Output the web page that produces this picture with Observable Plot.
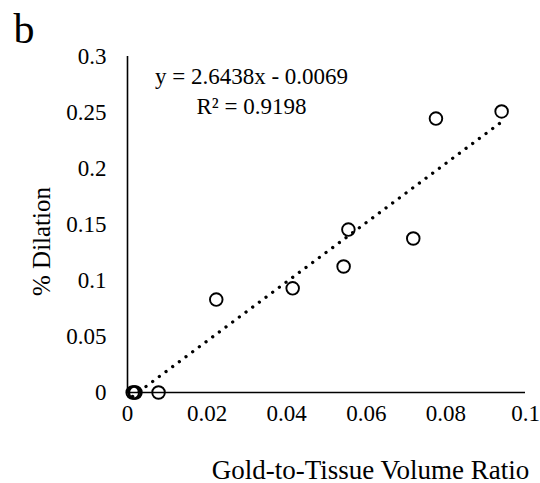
<!DOCTYPE html>
<html>
<head>
<meta charset="utf-8">
<script src="https://cdn.jsdelivr.net/npm/d3@7"></script>
<script src="https://cdn.jsdelivr.net/npm/@observablehq/plot@0.6"></script>
<style>
  html, body { margin: 0; padding: 0; background: #fff; }
  #chart { width: 540px; height: 483px; }
</style>
</head>
<body>
<div id="chart"></div>
<script>
// Gold-to-tissue volume ratio vs. measured dilation for each sample
const goldRatio = [0.0013, 0.0017, 0.0020, 0.0078, 0.0223, 0.0415, 0.0543, 0.0555, 0.0718, 0.0775, 0.0940];
const dilation  = [0,      0,      0,      0,      0.083,  0.093,  0.1125, 0.1455, 0.1375, 0.2446, 0.2509];

// Linear least-squares fit reported for the series
const trendSlope = 2.6438;
const trendIntercept = -0.0069;
const rSquared = 0.9198;

// Axis ticks
const xTicks = [0, 0.02, 0.04, 0.06, 0.08, 0.1];
const yTicks = [0, 0.05, 0.1, 0.15, 0.2, 0.25, 0.3];

const points = goldRatio.map((x, i) => ({x, y: dilation[i]}));
const [xMin, xMax] = d3.extent(goldRatio);
const trend = [xMin, xMax].map(x => ({x, y: trendSlope * x + trendIntercept}));

const equation = `y = ${trendSlope.toFixed(4)}x ${trendIntercept < 0 ? "-" : "+"} ${Math.abs(trendIntercept).toFixed(4)}`;
const fitLabel = `R² = ${rSquared.toFixed(4)}`;

const serif = "'Liberation Serif', 'Times New Roman', serif";

const chart = Plot.plot({
  width: 540,
  height: 483,
  marginLeft: 127,
  marginRight: 15,
  marginTop: 56,
  marginBottom: 91,
  style: {fontFamily: serif, fontSize: "23px", color: "#000", background: "#fff"},
  x: {domain: [0, 0.1]},
  y: {domain: [0, 0.3]},
  marks: [
    Plot.axisX({ticks: xTicks, tickSize: 0, tickPadding: 12, tickFormat: d => String(d), label: null, fontSize: 23}),
    Plot.axisY({ticks: yTicks, tickSize: 0, tickPadding: 21, tickFormat: d => String(d), label: null, fontSize: 23}),
    Plot.ruleY([0], {stroke: "#000", strokeWidth: 1.6}),
    Plot.ruleX([0], {stroke: "#000", strokeWidth: 1.6}),
    Plot.line(trend, {x: "x", y: "y", stroke: "#000", strokeWidth: 3.3, strokeLinecap: "round", strokeDasharray: "0.01 8.3"}),
    Plot.dot(points, {x: "x", y: "y", r: 6.3, stroke: "#000", strokeWidth: 1.9, fill: "none"}),
    Plot.text([equation], {frameAnchor: "top-left", dx: 124, dy: 27, textAnchor: "middle", lineAnchor: "bottom", fontSize: 23}),
    Plot.text([fitLabel], {frameAnchor: "top-left", dx: 124, dy: 57, textAnchor: "middle", lineAnchor: "bottom", fontSize: 23}),
    Plot.text(["Gold-to-Tissue Volume Ratio"], {frameAnchor: "bottom-left", dx: 243, dy: 86, textAnchor: "middle", lineAnchor: "bottom", fontSize: 27}),
    Plot.text(["% Dilation"], {frameAnchor: "top-left", dx: -86, dy: 185, rotate: -90, textAnchor: "middle", lineAnchor: "middle", fontSize: 25}),
    Plot.text(["b"], {frameAnchor: "top-left", dx: -114, dy: -14, textAnchor: "start", lineAnchor: "bottom", fontSize: 42})
  ]
});

document.getElementById("chart").appendChild(chart);
</script>
</body>
</html>
